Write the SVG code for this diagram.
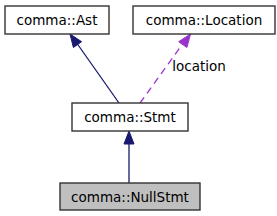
<svg xmlns="http://www.w3.org/2000/svg" width="277" height="216" viewBox="0 0 277 216">
<style>
.box{fill:#fff;stroke:#333;stroke-width:1.4}
.t{font-family:"DejaVu Sans",sans-serif;font-size:13.5px;fill:#000;text-anchor:middle}
.inh{stroke:#191970;stroke-width:1.3;fill:none}
.inhh{fill:#191970;stroke:#191970}
.use{stroke:#9a32cd;stroke-width:1.3;fill:none;stroke-dasharray:7,5}
.useh{fill:#9a32cd;stroke:#9a32cd}
</style>
<rect width="277" height="216" fill="#fff"/>
<g id="connectors">
<line class="inh" x1="119" y1="103" x2="76" y2="42"/>
<polygon class="inhh" points="70,34 81.6,41.7 73.4,47.5"/>
<line class="use" x1="140" y1="103" x2="184" y2="42"/>
<polygon class="useh" points="190.5,34 186.9,47.5 178.7,41.7"/>
<text class="t" x="199" y="71">location</text>
<line class="inh" x1="129" y1="183" x2="129" y2="142"/>
<polygon class="inhh" points="129,131 134,144 124,144"/>
</g>
<g id="node-ast">
<rect class="box" x="5" y="6" width="104" height="28"/>
<text class="t" x="57" y="25">comma::Ast</text>
</g>
<g id="node-location">
<rect class="box" x="133" y="6" width="142" height="28"/>
<text class="t" x="204" y="25">comma::Location</text>
</g>
<g id="node-stmt">
<rect class="box" x="72" y="103" width="116" height="28"/>
<text class="t" x="130" y="121.5">comma::Stmt</text>
</g>
<g id="node-nullstmt">
<rect class="box" x="60" y="183" width="140" height="27" style="fill:#bfbfbf"/>
<text class="t" x="130" y="201.5">comma::NullStmt</text>
</g>
</svg>
